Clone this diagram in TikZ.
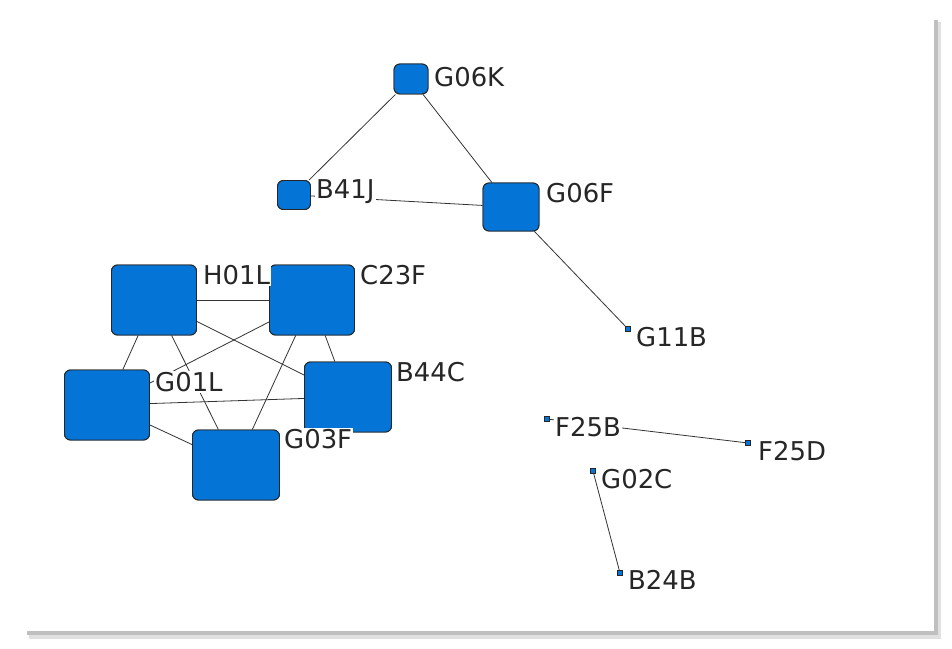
\documentclass[tikz,border=0pt]{standalone}
\usepackage{fontspec}
\setmainfont{DejaVu Sans}
\definecolor{nodeblue}{RGB}{4,116,214}
\tikzset{
  big/.style={draw=black!85, fill=nodeblue, rounded corners=6bp, line width=0.9bp, inner sep=0pt},
  tiny/.style={draw=black!85, fill=nodeblue, line width=0.8bp, minimum size=5bp, inner sep=0pt},
  tag/.style={anchor=west, fill=white, inner sep=1bp, font=\fontsize{26}{28}\selectfont, text=black!85},
  link/.style={draw=black!80, line width=0.8bp}
}
\begin{document}
\begin{tikzpicture}[x=1bp,y=-1bp]
\useasboundingbox (0,0) rectangle (952,649);
% frame with shadow
\fill[black!12] (29,22) rectangle (941,639);
\fill[black!25] (27,20) rectangle (938,635);
\fill[white] (25,18) rectangle (934,631);

% upper group
\node[big, minimum width=34bp, minimum height=30bp] (G06K) at (411,79) {};
\node[big, minimum width=33bp, minimum height=29bp] (B41J) at (294,195) {};
\node[big, minimum width=56bp, minimum height=48bp] (G06F) at (511,207) {};
\node[tiny] (G11B) at (628,329) {};

% clique
\node[big, minimum width=85bp, minimum height=70bp] (H01L) at (154,300) {};
\node[big, minimum width=85bp, minimum height=70bp] (C23F) at (312,300) {};
\node[big, minimum width=85bp, minimum height=70bp] (G01L) at (107,405) {};
\node[big, minimum width=87bp, minimum height=70bp] (B44C) at (348,397) {};
\node[big, minimum width=87bp, minimum height=70bp] (G03F) at (236,465) {};

% small pairs
\node[tiny] (F25B) at (547,419) {};
\node[tiny] (F25D) at (748,443) {};
\node[tiny] (G02C) at (593,471) {};
\node[tiny] (B24B) at (620,573) {};

\begin{scope}[on background layer/.style={}]
\end{scope}

% links
\foreach \a/\b in {G06K/B41J, G06K/G06F, B41J/G06F, G06F/G11B,
    F25B/F25D, G02C/B24B}
  \path[link] (\a) -- (\b);
\foreach \a/\b in {H01L/C23F, H01L/G01L, H01L/G03F, H01L/B44C,
    C23F/G01L, C23F/G03F, C23F/B44C, G01L/B44C, G01L/G03F}
  \path[link, shorten >=0bp] (\a) -- (\b);

% redraw boxes above links
\foreach \n/\w/\p in {H01L/85/{(154,300)}, C23F/85/{(312,300)}, G01L/85/{(107,405)},
    B44C/87/{(348,397)}, G03F/87/{(236,465)}}
  \node[big, minimum width=\w bp, minimum height=70bp] at \p {};
\node[big, minimum width=34bp, minimum height=30bp] at (411,79) {};
\node[big, minimum width=33bp, minimum height=29bp] at (294,195) {};
\node[big, minimum width=56bp, minimum height=48bp] at (511,207) {};

% labels
\node[tag] (tG06K) at (433,77) {G06K};
\node[tag] (tB41J) at (315,192) {B41J};
\node[tag] (tG06F) at (545,193) {G06F};
\node[tag] (tG11B) at (635,337) {G11B};
\node[tag] (tH01L) at (202,275) {H01L};
\node[tag] (tC23F) at (359,275) {C23F};
\node[tag] (tG01L) at (154,382) {G01L};
\node[tag] (tB44C) at (395,372) {B44C};
\node[tag] (tG03F) at (283,439) {G03F};
\node[tag] (tF25B) at (554,427) {F25B};
\node[tag] (tF25D) at (757,451) {F25D};
\node[tag] (tG02C) at (600,479) {G02C};
\node[tag] (tB24B) at (627,580) {B24B};
\end{tikzpicture}
\end{document}
